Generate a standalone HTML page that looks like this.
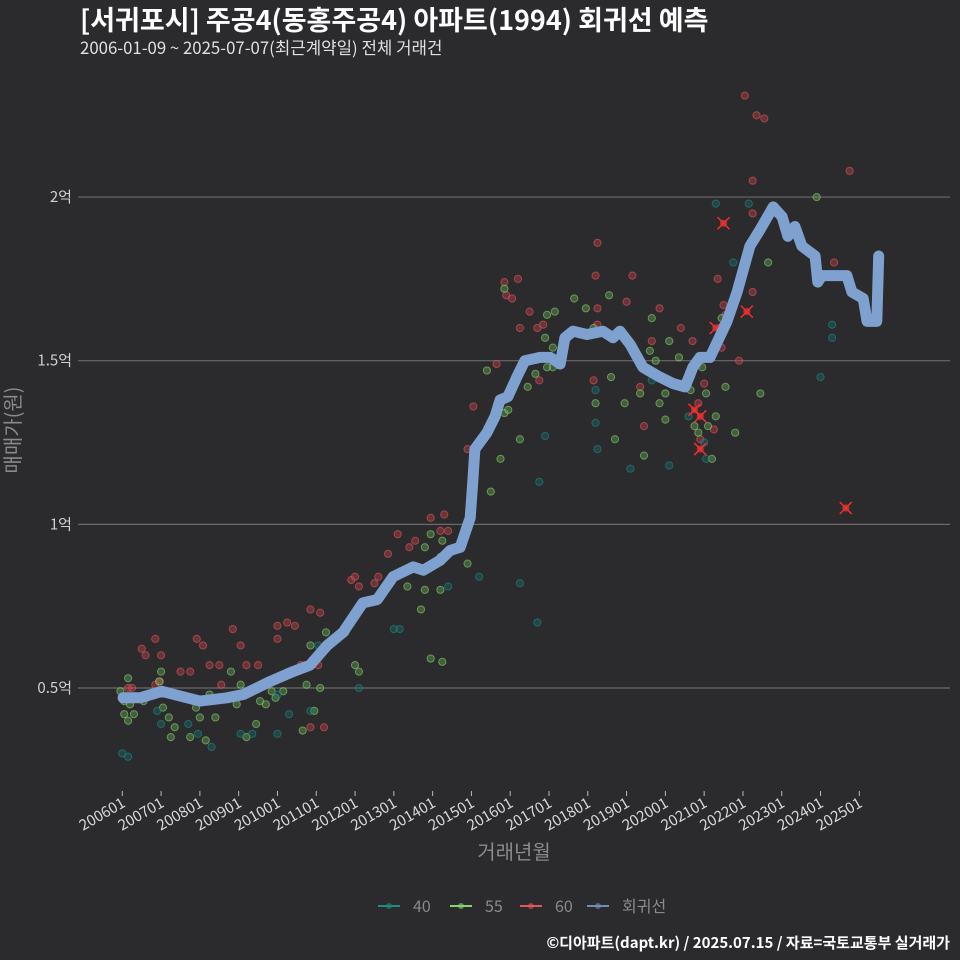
<!DOCTYPE html>
<html><head><meta charset="utf-8">
<style>
html,body{margin:0;padding:0;background:#2b2a2d;}
svg{display:block;font-family:"Noto Sans CJK KR","Liberation Sans",sans-serif;}
</style></head>
<body>
<svg id="chart" width="960" height="960" viewBox="0 0 960 960">
<rect x="0" y="0" width="960" height="960" fill="#2b2a2d"/>
<text x="80" y="30" font-size="27" font-weight="bold" fill="#ffffff">[서귀포시] 주공4(동홍주공4) 아파트(1994) 회귀선 예측</text>
<text x="80" y="54" font-size="16.8" fill="#e0e0e0">2006-01-09 ~ 2025-07-07(최근계약일) 전체 거래건</text>
<g id="grid"></g>
<g id="points"></g>
<g id="line"></g>
<g id="xaxis"></g>
<text x="20" y="430" font-size="20" fill="#8a8a8a" text-anchor="middle" transform="rotate(-90 20 430)">매매가(원)</text>
<text x="514" y="859" font-size="20" fill="#8a8a8a" text-anchor="middle">거래년월</text>
<g id="legend"></g>
<text x="950" y="948" font-size="15" font-weight="bold" fill="#ffffff" text-anchor="end">©디아파트(dapt.kr) / 2025.07.15 / 자료=국토교통부 실거래가</text>
</svg>
<script>
const yTicks=[0.5,1,1.5,2];
const yTickLabels=["0.5억","1억","1.5억","2억"];
const xTicks=[2006,2007,2008,2009,2010,2011,2012,2013,2014,2015,2016,2017,2018,2019,2020,2021,2022,2023,2024,2025];
const xTickLabels=["200601","200701","200801","200901","201001","201101","201201","201301","201401","201501","201601","201701","201801","201901","202001","202101","202201","202301","202401","202501"];
const redT=[2006.5,2006.6,2006.25,2006.15,2006.85,2006.97,2007.0,2006.85,2007.92,2008.08,2007.5,2007.75,2008.25,2008.5,2008.55,2008.85,2009.05,2009.2,2009.5,2010.0,2010.0,2010.25,2010.45,2010.6,2010.85,2011.1,2010.85,2011.2,2011.05,2011.9,2012.0,2012.1,2012.5,2012.6,2012.85,2013.1,2013.4,2013.55,2013.95,2014.2,2014.3,2014.4,2014.9,2015.05,2015.65,2015.85,2015.9,2016.05,2016.2,2016.25,2016.5,2016.7,2016.75,2016.85,2018.2,2018.25,2018.25,2018.15,2018.25,2019.0,2019.15,2019.65,2019.35,2019.85,2020.4,2019.45,2020.45,2020.7,2020.85,2021.4,2021.0,2021.25,2020.9,2021.35,2021.45,2021.55,2021.9,2022.25,2022.05,2022.35,2022.55,2022.25,2022.25,2024.75,2024.35,2021.5];
const redV=[0.62,0.60,0.50,0.50,0.51,0.52,0.60,0.65,0.65,0.63,0.55,0.55,0.57,0.57,0.51,0.68,0.63,0.57,0.57,0.65,0.69,0.70,0.69,0.57,0.74,0.73,0.38,0.38,0.57,0.83,0.84,0.81,0.82,0.84,0.91,0.97,0.93,0.95,1.02,0.98,1.03,0.98,1.23,1.36,1.49,1.74,1.70,1.69,1.75,1.60,1.65,1.60,1.44,1.61,1.76,1.66,1.86,1.44,1.61,1.68,1.76,1.56,1.42,1.66,1.60,1.30,1.43,1.56,1.37,1.60,1.43,1.29,1.26,1.75,1.54,1.64,1.50,1.71,2.31,2.25,2.24,2.05,1.95,2.08,1.80,1.67];
const greenT=[2005.95,2006.05,2006.15,2006.2,2006.05,2006.15,2006.3,2006.55,2006.95,2007.0,2007.05,2007.2,2007.35,2007.25,2007.75,2007.9,2008.0,2008.15,2008.25,2008.4,2008.8,2008.95,2009.05,2009.2,2009.55,2009.45,2009.7,2009.85,2009.95,2010.15,2010.75,2010.85,2011.1,2011.25,2011.75,2012.0,2012.1,2010.65,2010.95,2013.95,2013.8,2013.35,2013.8,2014.2,2014.2,2014.25,2013.7,2013.95,2014.25,2014.9,2015.4,2015.5,2015.85,2015.85,2015.95,2016.25,2016.95,2017.1,2015.75,2016.45,2016.65,2016.95,2017.15,2017.1,2016.9,2017.65,2018.15,2017.95,2018.2,2018.6,2018.95,2019.35,2019.65,2019.6,2018.55,2019.45,2019.75,2020.0,2019.85,2020.0,2020.1,2020.65,2020.75,2020.85,2021.3,2021.8,2021.55,2021.05,2021.1,2021.45,2023.9,2022.45,2022.65,2021.2,2018.7,2020.95,2020.65,2020.35];
const greenV=[0.49,0.46,0.53,0.45,0.42,0.40,0.42,0.46,0.52,0.55,0.44,0.41,0.38,0.35,0.35,0.44,0.41,0.34,0.48,0.41,0.55,0.45,0.51,0.35,0.46,0.39,0.45,0.49,0.47,0.49,0.51,0.63,0.50,0.67,0.67,0.57,0.55,0.37,0.43,0.97,0.93,0.81,0.80,0.80,0.90,0.95,0.74,0.59,0.58,0.88,1.47,1.10,1.72,1.34,1.35,1.26,1.48,1.48,1.20,1.42,1.46,1.64,1.65,1.54,1.57,1.69,1.60,1.66,1.37,1.45,1.37,1.40,1.63,1.53,1.70,1.21,1.50,1.40,1.37,1.32,1.56,1.41,1.30,1.28,1.33,1.28,1.42,1.40,1.30,1.63,2.00,1.40,1.80,1.20,1.26,1.48,1.45,1.51];
const tealT=[2006.0,2006.15,2006.9,2007.0,2007.7,2008.3,2007.95,2009.05,2009.35,2010.0,2010.3,2010.0,2010.85,2011.05,2012.1,2014.4,2013.0,2013.15,2015.2,2016.25,2016.7,2016.9,2016.75,2018.2,2018.25,2018.2,2019.1,2019.65,2020.6,2020.1,2021.05,2021.3,2022.15,2021.3,2021.75,2024.3,2024.3,2024.0,2021.0];
const tealV=[0.30,0.29,0.43,0.39,0.39,0.32,0.36,0.36,0.36,0.36,0.42,0.48,0.43,0.63,0.50,0.81,0.68,0.68,0.84,0.82,0.70,1.27,1.13,1.31,1.23,1.41,1.17,1.44,1.33,1.18,1.20,1.98,1.98,1.54,1.80,1.61,1.57,1.45,1.25];
const crossT=[2021.5,2020.75,2020.9,2020.9,2021.3,2022.1,2024.65];
const crossV=[1.92,1.35,1.33,1.23,1.60,1.65,1.05];
const lineT=[2006.02,2006.46,2007.02,2007.67,2008.0,2008.7,2009.12,2009.81,2010.4,2010.84,2011.28,2011.69,2012.2,2012.57,2012.98,2013.5,2013.76,2014.19,2014.45,2014.71,2014.97,2015.04,2015.09,2015.4,2015.61,2015.74,2015.94,2016.17,2016.38,2016.77,2017.03,2017.29,2017.41,2017.62,2017.98,2018.39,2018.65,2018.83,2019.09,2019.42,2019.86,2020.2,2020.51,2020.71,2020.89,2021.15,2021.59,2021.85,2022.18,2022.44,2022.78,2023.01,2023.16,2023.34,2023.52,2023.86,2023.93,2024.04,2024.68,2024.81,2025.1,2025.2,2025.45,2025.5];
const lineV=[0.47,0.47,0.49,0.47,0.46,0.47,0.48,0.52,0.55,0.57,0.63,0.67,0.76,0.77,0.84,0.87,0.86,0.89,0.92,0.93,1.02,1.14,1.23,1.28,1.33,1.38,1.39,1.45,1.50,1.51,1.51,1.49,1.57,1.59,1.58,1.59,1.57,1.59,1.55,1.48,1.45,1.43,1.42,1.48,1.51,1.51,1.62,1.71,1.85,1.90,1.97,1.94,1.88,1.91,1.85,1.82,1.74,1.76,1.76,1.71,1.69,1.62,1.62,1.82];

const NS="http://www.w3.org/2000/svg";
function X(t){return 122.3+(t-2006)*38.79;}
function Y(v){return 688-(v-0.5)*327.3;}
function mk(tag,attrs,parent){const e=document.createElementNS(NS,tag);for(const k in attrs)e.setAttribute(k,attrs[k]);parent.appendChild(e);return e;}
const grid=document.getElementById('grid');
yTicks.forEach((v,i)=>{
  const l=mk('line',{x1:78,x2:950,y1:Y(v),y2:Y(v),stroke:'#6a6a6a','stroke-width':1.2},grid);
  
  
  const t=mk('text',{x:72,y:Y(v)+5,'font-size':15,fill:'#d0d0d0','text-anchor':'end'},grid);
  t.textContent=yTickLabels[i];
  
  
});
const xa=document.getElementById('xaxis');
xTicks.forEach((t,i)=>{
  const x=X(t);
  const l=mk('line',{x1:x,x2:x,y1:791,y2:796,stroke:'#bbbbbb','stroke-width':1},xa);
  
  
  const tx=mk('text',{x:x+4,y:806,'font-size':15,fill:'#d8d8d8','text-anchor':'end',transform:`rotate(-30 ${x+4} 806)`},xa);
  tx.textContent=xTickLabels[i];
  
  
});
const pts=document.getElementById('points');
function dots(T,V,stroke,fill,name){
  T.forEach((t,i)=>{
    const c=mk('circle',{cx:X(t),cy:Y(V[i]),r:3.6,fill:fill,'fill-opacity':0.4,stroke:stroke,'stroke-opacity':0.6,'stroke-width':1},pts);
    
    
  });
}
dots(redT,redV,'#e0575a','#c94448','point-60');
dots(greenT,greenV,'#86d46e','#6aaa55','point-55');
dots(tealT,tealV,'#1f8a86','#1a6e6b','point-40');
crossT.forEach((t,i)=>{
  const x=X(t),y=Y(crossV[i]);
  const g=mk('g',{},pts);
  
  
  mk('circle',{cx:x,cy:y,r:3.6,fill:'#d04040','fill-opacity':0.7},g);
  mk('path',{d:`M${x-6} ${y-6}L${x+6} ${y+6}M${x+6} ${y-6}L${x-6} ${y+6}`,stroke:'#ff2a2a','stroke-width':1.5},g);
});
const lg=document.getElementById('line');
const d=lineT.map((t,i)=>(i?'L':'M')+X(t).toFixed(1)+' '+Y(lineV[i]).toFixed(1)).join('');
const p=mk('path',{d:d,fill:'none',stroke:'#7ea1d0','stroke-width':11,'stroke-linejoin':'round','stroke-linecap':'round'},lg);


const legendItems=[["40","#1f8a86"],["55","#86d46e"],["60","#e0575a"],["회귀선","#6f8fbb"]];
const legendX=[378,450,520,587];
const leg=document.getElementById('legend');
legendItems.forEach((it,i)=>{
  const g=mk('g',{},leg);
  
  
  const x=legendX[i];
  mk('line',{x1:x,x2:x+22,y1:906,y2:906,stroke:it[1],'stroke-width':2},g);
  mk('circle',{cx:x+11,cy:906,r:3,fill:it[1],'fill-opacity':0.6},g);
  const t=mk('text',{x:x+35,y:912,'font-size':16,fill:'#8a8a8a'},g);
  t.textContent=it[0];
});
</script>
</body></html>
